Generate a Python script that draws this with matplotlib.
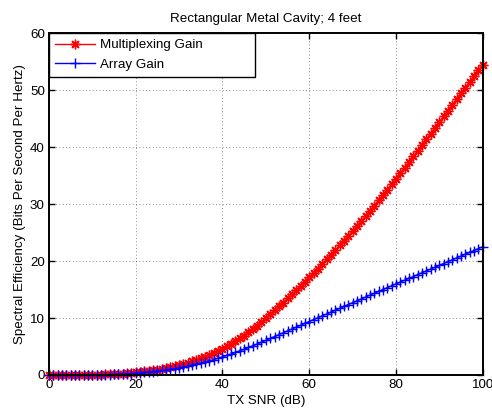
import matplotlib
matplotlib.use("Agg")
import matplotlib.pyplot as plt

plt.rcParams['font.family'] = ['Liberation Sans', 'DejaVu Sans']

# TX SNR sweep, one sample per dB
snr_db = list(range(0, 101))

multiplexing_gain = [
    0.00, 0.00, 0.01, 0.01, 0.01, 0.01, 0.02, 0.02, 0.03, 0.03,
    0.04, 0.05, 0.07, 0.09, 0.12, 0.15, 0.19, 0.24, 0.30, 0.37,
    0.45, 0.54, 0.63, 0.73, 0.84, 0.96, 1.09, 1.23, 1.38, 1.55,
    1.73, 1.93, 2.15, 2.39, 2.65, 2.93, 3.23, 3.55, 3.89, 4.25,
    4.63, 5.03, 5.46, 5.92, 6.41, 6.93, 7.48, 8.06, 8.67, 9.31,
    9.98, 10.65, 11.33, 12.02, 12.72, 13.43, 14.15, 14.88, 15.62, 16.37,
    17.13, 17.90, 18.68, 19.47, 20.27, 21.08, 21.90, 22.73, 23.57, 24.42,
    25.28, 26.15, 27.03, 27.92, 28.82, 29.73, 30.65, 31.58, 32.52, 33.47,
    34.43, 35.40, 36.38, 37.37, 38.37, 39.37, 40.37, 41.37, 42.37, 43.37,
    44.37, 45.38, 46.39, 47.40, 48.41, 49.42, 50.43, 51.44, 52.45, 53.46,
    54.47,
]

array_gain = [
    0.00, 0.00, 0.00, 0.01, 0.01, 0.01, 0.01, 0.02, 0.02, 0.02,
    0.03, 0.04, 0.05, 0.06, 0.08, 0.10, 0.13, 0.16, 0.20, 0.25,
    0.31, 0.38, 0.45, 0.53, 0.61, 0.70, 0.80, 0.90, 1.01, 1.13,
    1.25, 1.39, 1.54, 1.71, 1.89, 2.08, 2.28, 2.49, 2.71, 2.94,
    3.18, 3.43, 3.69, 3.96, 4.24, 4.53, 4.83, 5.13, 5.44, 5.76,
    6.08, 6.41, 6.74, 7.07, 7.40, 7.73, 8.06, 8.39, 8.72, 9.05,
    9.38, 9.71, 10.04, 10.37, 10.70, 11.03, 11.36, 11.69, 12.02, 12.35,
    12.68, 13.01, 13.34, 13.67, 14.00, 14.33, 14.66, 14.99, 15.32, 15.65,
    15.98, 16.31, 16.63, 16.96, 17.28, 17.61, 17.93, 18.26, 18.58, 18.91,
    19.24, 19.56, 19.89, 20.21, 20.54, 20.86, 21.19, 21.52, 21.84, 22.17,
    22.50,
]

x_ticks = [0, 20, 40, 60, 80, 100]
y_ticks = [0, 10, 20, 30, 40, 50, 60]

fs = 9.6

fig = plt.figure(figsize=(4.92, 4.11), dpi=100)
ax = fig.add_axes([0.0996, 0.0876, 0.8814, 0.832])

# asterisk with 8 spokes, like a plus overlaid on an x
ax.plot(snr_db, multiplexing_gain, color='red', marker=(8, 2, 0), markersize=7,
        markeredgewidth=1.0, linewidth=1.0, label='Multiplexing Gain',
        clip_on=False, zorder=3)
ax.plot(snr_db, array_gain, color='blue', marker='+', markersize=7,
        markeredgewidth=1.0, linewidth=1.0, label='Array Gain',
        clip_on=False, zorder=3)

ax.set_xlim(0, 100)
ax.set_ylim(0, 60)
ax.set_xticks(x_ticks)
ax.set_yticks(y_ticks)
ax.tick_params(direction='in', top=True, right=True, length=4, width=1,
               labelsize=fs, pad=3)
ax.grid(True, linestyle=(0, (1, 3)), color='black', linewidth=0.6, alpha=0.6)

for spine in ax.spines.values():
    spine.set_linewidth(1.4)
    spine.set_zorder(4)

ax.set_title('Rectangular Metal Cavity; 4 feet', fontsize=fs, pad=8)
ax.set_xlabel('TX SNR (dB)', fontsize=fs, labelpad=3)
ax.set_ylabel('Spectral Efficiency (Bits Per Second Per Hertz)', fontsize=fs,
              labelpad=3)

leg = ax.legend(loc='upper left', bbox_to_anchor=(0, 1, 0.475, 0),
                mode='expand', fontsize=fs, handlelength=3.0,
                fancybox=False, framealpha=1, edgecolor='black',
                borderaxespad=0, borderpad=0.45, labelspacing=0.55,
                handletextpad=0.4)
leg.get_frame().set_linewidth(1.0)
leg.set_zorder(5)

fig.savefig('out.png', dpi=100)
